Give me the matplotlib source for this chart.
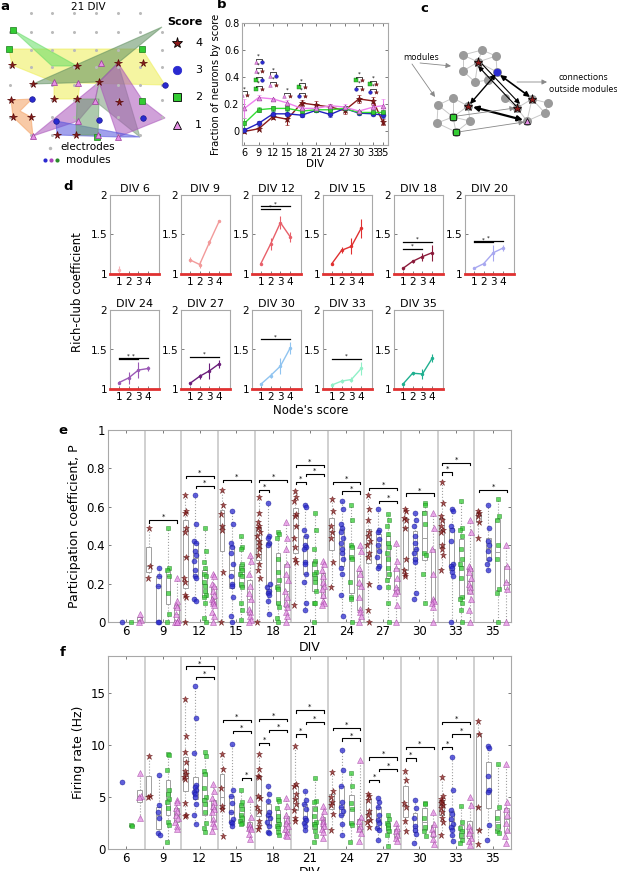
import numpy as np
import matplotlib.pyplot as plt

W, H = 617, 871

# ---------------- data ----------------
# panel a: 21 DIV example (positions read in pixels of the original panel)
a_stars = [(12, 65), (77, 66), (118, 63), (143, 63), (33, 84), (99, 82), (11, 100), (54, 99),
           (77, 99), (119, 102), (13, 117), (31, 117), (57, 135), (76, 135)]
a_circles = [(32, 99), (165, 85), (56, 121), (99, 120), (143, 118)]
a_squares = [(13, 30), (9, 49), (142, 49), (142, 101), (97, 137)]
a_triangles = [(101, 63), (54, 82), (78, 83), (95, 101), (78, 121), (33, 136), (98, 135), (118, 137)]
a_grid_x = [10, 31, 52, 74, 96, 118, 140, 162]
a_grid_y = [13, 32, 50, 67, 85, 100, 117, 135]
a_modules = [
    ('#eeee55', [(9, 49), (142, 49), (165, 85), (80, 83), (78, 99), (54, 99), (54, 82), (12, 65)]),
    ('#66dd66', [(13, 30), (77, 66), (52, 66)]),
    ('#5f8f5f', [(33, 84), (162, 27), (118, 63), (99, 82)]),
    ('#7a9a7a', [(118, 63), (99, 82), (95, 101), (140, 137)]),
    ('#aa55bb', [(33, 136), (99, 82), (95, 101), (78, 121)]),
    ('#aa55bb', [(118, 63), (143, 101), (165, 118), (118, 137), (99, 82)]),
    ('#f4a060', [(11, 100), (32, 99), (20, 111), (31, 117), (33, 136), (13, 117)]),
    ('#5555dd', [(56, 121), (140, 137), (118, 137), (57, 135)]),
    ('#6aa06a', [(77, 99), (99, 99), (98, 135), (76, 135)]),
]

# panel b: fraction of neurons by score
b_div = [6, 9, 12, 15, 18, 21, 24, 27, 30, 33, 35]
b_score4 = [0.00, 0.02, 0.11, 0.09, 0.21, 0.195, 0.18, 0.155, 0.24, 0.225, 0.07]
b_score4_err = [0.01, 0.01, 0.02, 0.04, 0.02, 0.03, 0.02, 0.03, 0.03, 0.03, 0.02]
b_score3 = [0.01, 0.06, 0.13, 0.13, 0.12, 0.155, 0.125, 0.17, 0.135, 0.13, 0.12]
b_score3_err = [0.01, 0.02, 0.02, 0.03, 0.01, 0.01, 0.02, 0.01, 0.01, 0.01, 0.02]
b_score2 = [0.06, 0.16, 0.17, 0.17, 0.15, 0.16, 0.16, 0.17, 0.14, 0.14, 0.14]
b_score2_err = [0.04, 0.02, 0.02, 0.02, 0.01, 0.01, 0.02, 0.02, 0.02, 0.01, 0.03]
b_score1 = [0.17, 0.25, 0.24, 0.21, 0.17, 0.17, 0.19, 0.18, 0.15, 0.18, 0.19]
b_score1_err = [0.07, 0.02, 0.01, 0.02, 0.01, 0.02, 0.01, 0.02, 0.01, 0.02, 0.05]
# (DIV, height, score a, score b)
b_sig = [(6, 0.27, 1, 4), (9, 0.51, 1, 3), (9, 0.445, 1, 4), (9, 0.38, 2, 3), (9, 0.31, 2, 4),
         (12, 0.41, 1, 3), (12, 0.34, 1, 4), (15, 0.26, 1, 4), (18, 0.33, 2, 4), (18, 0.26, 3, 4),
         (30, 0.38, 2, 4), (30, 0.31, 3, 4), (33, 0.35, 2, 4), (33, 0.29, 3, 4)]

# panel c: schematic network
c_top = [(463, 55), (482, 50), (496, 56), (463, 71), (478, 62), (497, 72), (475, 82), (488, 80)]
c_left = [(438, 105), (453, 98), (468, 106), (453, 117), (437, 123), (470, 121), (456, 132)]
c_right = [(532, 99), (517, 108), (545, 113), (527, 121), (548, 103), (505, 98)]

# panel d: rich-club coefficient by node's score
d_div = [6, 9, 12, 15, 18, 20, 24, 27, 30, 33, 35]
d_mean = [[1.05, np.nan, np.nan, np.nan],
          [1.18, 1.12, 1.40, 1.67],
          [1.13, 1.38, 1.65, 1.47],
          [1.13, 1.30, 1.35, 1.58],
          [1.07, 1.16, 1.22, 1.27],
          [1.07, 1.13, 1.27, 1.33],
          [1.08, 1.14, 1.24, 1.26],
          [1.07, 1.16, 1.23, 1.32],
          [1.06, 1.17, 1.29, 1.52],
          [1.05, 1.10, 1.12, 1.26],
          [1.06, 1.20, 1.19, 1.39]]
d_err = [[0.05, 0, 0, 0],
         [0.03, 0.05, 0.03, 0.01],
         [0.02, 0.07, 0.08, 0.06],
         [0.02, 0.04, 0.10, 0.12],
         [0.02, 0.02, 0.05, 0.10],
         [0.01, 0.02, 0.10, 0.04],
         [0.02, 0.08, 0.10, 0.03],
         [0.02, 0.03, 0.10, 0.05],
         [0.02, 0.03, 0.10, 0.08],
         [0.02, 0.03, 0.03, 0.08],
         [0.02, 0.02, 0.06, 0.05]]
d_sig = {12: [(1, 3, 1.82), (1, 4, 1.86)], 18: [(1, 3, 1.32), (1, 4, 1.41)],
         20: [(1, 3, 1.40), (1, 4, 1.42)], 24: [(1, 3, 1.38), (1, 4, 1.39)],
         27: [(1, 4, 1.41)], 30: [(1, 4, 1.63)], 33: [(1, 4, 1.38)]}

# panels e, f: per-DIV groups
ef_div = [6, 9, 12, 15, 18, 21, 24, 27, 30, 33, 35]

pc_score4 = [[],
             [0.49, 0.29, 0.23],
             [0.66, 0.58, 0.57, 0.49, 0.47, 0.34, 0.23, 0.21, 0.14, 0.13, 0.0],
             [0.69, 0.61, 0.56, 0.50, 0.48, 0.26, 0.0],
             [0.65, 0.57, 0.52, 0.50, 0.49, 0.47, 0.45, 0.42, 0.40, 0.38, 0.35, 0.30, 0.27, 0.23, 0.0],
             [0.68, 0.65, 0.63, 0.56, 0.55, 0.50, 0.44, 0.39, 0.33, 0.31, 0.09],
             [0.64, 0.58, 0.50, 0.47, 0.44, 0.31, 0.18],
             [0.66, 0.59, 0.53, 0.47, 0.45, 0.42, 0.40, 0.36, 0.34, 0.20, 0.06, 0.0],
             [0.59, 0.58, 0.54, 0.53, 0.49, 0.33, 0.27, 0.25, 0.24],
             [0.73, 0.62, 0.55, 0.53, 0.50, 0.48, 0.47, 0.40, 0.38, 0.35, 0.27],
             [0.58, 0.57, 0.55, 0.52, 0.44]]
pc_score3 = [[0.0],
             [0.28, 0.24, 0.19, 0.0, 0.0],
             [0.66, 0.51, 0.42, 0.41, 0.37, 0.35, 0.32, 0.27, 0.24, 0.23, 0.12, 0.11],
             [0.58, 0.51, 0.41, 0.39, 0.36, 0.30, 0.24, 0.20, 0.19, 0.13, 0.03, 0.0],
             [0.62, 0.45, 0.44, 0.41, 0.40, 0.20, 0.18, 0.16, 0.15, 0.14, 0.11, 0.04],
             [0.61, 0.60, 0.48, 0.45, 0.40, 0.39, 0.38, 0.31, 0.30, 0.25, 0.21, 0.10, 0.06],
             [0.63, 0.59, 0.51, 0.49, 0.47, 0.44, 0.41, 0.38, 0.36, 0.33, 0.28, 0.25, 0.14, 0.03],
             [0.59, 0.48, 0.47, 0.43, 0.40, 0.37, 0.34, 0.29, 0.28, 0.18],
             [0.57, 0.53, 0.50, 0.45, 0.41, 0.38, 0.36, 0.33, 0.31, 0.15, 0.12],
             [0.59, 0.58, 0.50, 0.48, 0.42, 0.30, 0.29, 0.28, 0.26, 0.24, 0.0],
             [0.61, 0.49, 0.42, 0.40, 0.37, 0.33, 0.30, 0.27]]
pc_score2 = [[0.0],
             [0.49, 0.28, 0.27, 0.24, 0.15, 0.04, 0.0],
             [0.49, 0.37, 0.31, 0.28, 0.25, 0.24, 0.21, 0.19, 0.16, 0.14, 0.13, 0.10, 0.02, 0.0],
             [0.45, 0.39, 0.38, 0.30, 0.28, 0.27, 0.25, 0.24, 0.20, 0.18, 0.10, 0.06, 0.01],
             [0.47, 0.46, 0.44, 0.33, 0.26, 0.22, 0.18, 0.17, 0.10, 0.08, 0.02, 0.0],
             [0.57, 0.48, 0.38, 0.32, 0.30, 0.26, 0.25, 0.23, 0.21, 0.16, 0.10, 0.10, 0.0],
             [0.61, 0.53, 0.40, 0.39, 0.34, 0.33, 0.21, 0.13, 0.12, 0.0],
             [0.56, 0.53, 0.50, 0.46, 0.41, 0.39, 0.36, 0.33, 0.28, 0.25, 0.22, 0.18, 0.10, 0.0],
             [0.62, 0.61, 0.57, 0.51, 0.36, 0.35, 0.25, 0.10],
             [0.63, 0.49, 0.48, 0.45, 0.38, 0.33, 0.30, 0.28, 0.23, 0.13, 0.12, 0.10, 0.06, 0.0],
             [0.64, 0.55, 0.53, 0.40, 0.33, 0.17, 0.15, 0.0]]
pc_score1 = [[0.04, 0.01, 0.0],
             [0.23, 0.11, 0.09, 0.08, 0.04, 0.01, 0.0, 0.0, 0.0],
             [0.25, 0.24, 0.20, 0.19, 0.16, 0.14, 0.12, 0.11, 0.10, 0.09, 0.05, 0.03, 0.0],
             [0.35, 0.32, 0.25, 0.19, 0.15, 0.12, 0.07, 0.05, 0.03, 0.01, 0.0],
             [0.52, 0.44, 0.38, 0.30, 0.25, 0.22, 0.16, 0.13, 0.10, 0.08, 0.05, 0.03, 0.0],
             [0.32, 0.30, 0.27, 0.24, 0.21, 0.19, 0.17, 0.14, 0.11, 0.10, 0.09],
             [0.40, 0.37, 0.28, 0.25, 0.21, 0.19, 0.13, 0.07, 0.05, 0.03, 0.0],
             [0.41, 0.32, 0.28, 0.23, 0.18, 0.16, 0.15, 0.09, 0.0],
             [0.57, 0.49, 0.38, 0.25, 0.12, 0.11, 0.10, 0.08, 0.0],
             [0.53, 0.47, 0.29, 0.28, 0.26, 0.23, 0.20, 0.18, 0.16, 0.12, 0.06, 0.0],
             [0.40, 0.29, 0.21, 0.17, 0.0]]
# (group index, score a, score b, height)  scores: 4 star, 3 circle, 2 square, 1 triangle
pc_sig = [(1, 4, 1, 0.53), (2, 4, 1, 0.76), (2, 3, 1, 0.71), (3, 4, 1, 0.74), (4, 4, 1, 0.74),
          (4, 4, 3, 0.69), (5, 4, 1, 0.82), (5, 3, 1, 0.77), (5, 4, 3, 0.73), (6, 4, 1, 0.73),
          (6, 3, 1, 0.68), (7, 4, 1, 0.70), (7, 3, 1, 0.63), (8, 4, 1, 0.67), (9, 4, 1, 0.83),
          (9, 4, 3, 0.78), (10, 4, 1, 0.69)]

fr_score4 = [[],
             [8.9, 5.1, 5.0],
             [14.4, 10.8, 9.3, 8.3, 7.5, 7.2, 6.9, 6.7, 4.4, 3.3, 3.2],
             [9.1, 7.7, 5.8, 4.1, 3.8, 1.2],
             [9.1, 7.7, 7.0, 6.9, 5.1, 4.9, 4.0, 3.6, 2.7, 2.2, 1.9],
             [9.9, 6.2, 6.0, 5.3, 4.8, 4.3, 3.7, 3.0, 2.7],
             [7.4, 5.6, 5.0, 4.5, 4.2, 3.4, 1.8],
             [5.3, 5.1, 4.7, 3.6, 3.3, 2.8, 2.6, 2.1],
             [7.5, 6.6, 4.4, 4.0, 2.7, 1.7],
             [6.9, 5.1, 4.8, 4.6, 4.4, 4.2, 3.9, 3.5, 3.0, 2.6, 1.3],
             [12.3, 11.0, 4.0, 1.8, 0.5]]
fr_score3 = [[6.4],
             [7.1, 4.2, 3.5, 3.0, 1.5, 1.3],
             [15.6, 12.6, 9.2, 6.1, 5.9, 5.7, 5.5, 5.3, 5.0, 4.3, 3.3, 2.4],
             [10.1, 5.7, 5.1, 4.4, 3.5, 2.9, 2.6, 2.5, 2.2],
             [6.0, 5.3, 4.6, 3.5, 3.3, 3.0, 2.6, 2.2, 1.6, 1.5],
             [5.6, 4.7, 4.3, 3.8, 3.0, 2.8, 2.5, 2.2, 1.8],
             [9.5, 7.6, 6.0, 4.5, 4.0, 3.6, 3.3, 2.4, 1.3],
             [4.9, 4.5, 4.0, 3.3, 2.8, 2.5, 2.0, 1.8, 0.9],
             [4.7, 3.9, 3.0, 2.2, 1.8, 1.4, 0.6],
             [8.8, 5.7, 3.7, 3.4, 2.9, 2.4, 2.1, 1.8, 1.3, 0.8],
             [9.9, 9.7, 7.0, 5.7, 5.5, 2.3, 0.9]]
fr_score2 = [[2.3, 2.2],
             [9.1, 9.0, 7.6, 5.7, 5.3, 4.8, 4.5, 3.9, 2.6, 2.3, 0.7],
             [9.3, 8.9, 7.5, 7.2, 5.8, 5.0, 4.7, 4.3, 3.5, 2.5, 2.0, 1.6],
             [5.7, 4.5, 4.2, 3.8, 3.3, 3.0, 2.7, 2.5, 2.4],
             [4.8, 4.6, 3.9, 3.2, 2.8, 2.4, 2.2, 2.0, 1.6, 1.3],
             [6.8, 4.6, 4.5, 3.8, 3.2, 2.6, 2.4, 2.2, 1.7, 1.2, 0.7],
             [7.3, 6.0, 4.4, 3.8, 2.5, 2.3, 0.7],
             [3.3, 2.9, 2.5, 2.3, 2.0, 1.7, 1.3, 0.3],
             [4.4, 4.3, 3.0, 2.1, 1.7, 1.2],
             [4.1, 2.6, 2.0, 1.7, 1.3, 0.9, 0.6],
             [8.1, 4.0, 3.0, 2.2, 1.7, 1.5]]
fr_score1 = [[7.3, 5.1, 5.0, 3.0],
             [4.7, 4.5, 3.9, 3.6, 3.3, 3.0, 2.6, 2.2, 1.9],
             [6.2, 5.6, 4.9, 4.5, 4.1, 3.8, 3.5, 2.9, 2.5, 2.2, 1.7],
             [4.8, 3.1, 2.4, 2.2, 2.0, 1.9, 1.4, 1.0],
             [4.9, 4.1, 3.3, 2.8, 2.5, 2.2, 1.9, 1.6, 1.3, 1.2],
             [4.1, 3.6, 3.1, 2.7, 2.5, 2.2, 1.9, 1.6, 1.1],
             [8.5, 3.1, 2.7, 2.2, 1.9, 1.5, 0.8],
             [2.5, 2.0, 1.7, 1.3, 1.1, 0.8],
             [3.5, 2.4, 1.9, 1.5, 1.0, 0.5],
             [5.0, 4.2, 2.2, 1.8, 1.5, 1.1, 0.8, 0.4],
             [8.1, 4.5, 3.8, 3.3, 2.5, 1.8, 1.2, 0.6]]
fr_sig = [(2, 4, 1, 17.5), (2, 3, 1, 16.5), (3, 4, 1, 12.4), (3, 3, 1, 11.3), (3, 2, 1, 6.8),
          (4, 4, 1, 12.5), (4, 3, 1, 11.4), (4, 4, 3, 10.2), (5, 4, 1, 13.3), (5, 3, 1, 12.2),
          (5, 4, 3, 11.0), (6, 4, 1, 11.6), (6, 3, 1, 10.6), (7, 4, 1, 8.8), (7, 3, 1, 7.7),
          (7, 4, 3, 6.6), (8, 4, 1, 9.8), (8, 4, 3, 8.7), (9, 4, 1, 12.2), (9, 3, 1, 11.0),
          (9, 4, 3, 9.8)]

# ---------------- styles ----------------
marker_of = {4: '*', 3: 'o', 2: 's', 1: '^'}
face_of = {4: '#8b1a1a', 3: '#2a2ad0', 2: '#33cc33', 1: '#e58fe5'}
edge_of = {4: '#5a0a0a', 3: '#1a1a90', 2: '#1a7a1a', 1: '#9a3a9a'}
line_of = {4: '#8b1a1a', 3: '#2020c0', 2: '#33dd33', 1: '#ee80ee'}
d_colors = ['#f7b4b8', '#f29a9a', '#e8606a', '#e03030', '#8b1a3a', '#a8a8f0',
            '#9b59b6', '#6b1e7b', '#90c4f0', '#90f0c8', '#20b090']
grid_gray = '#a8a8a8'

fig = plt.figure(figsize=(W / 100, H / 100), dpi=100)


def px_axes(l, t, r, b):
    return fig.add_axes([l / W, 1 - b / H, (r - l) / W, (b - t) / H])


def matlab_style(ax, fs):
    for sp in ax.spines.values():
        sp.set_color(grid_gray)
        sp.set_linewidth(0.8)
    ax.tick_params(direction='in', length=2.5, width=0.6, color='#666666',
                   labelsize=fs, top=True, right=True, pad=2)


def bracket(ax, x1, x2, y, dy, fs=5, lw=0.8):
    ax.plot([x1, x1, x2, x2], [y - dy, y, y, y - dy], color='k', lw=lw, clip_on=False)
    ax.text((x1 + x2) / 2, y, '*', ha='center', va='bottom', fontsize=fs)


# ---------------- panel a ----------------
ax = px_axes(0, 0, 215, 170)
ax.set_xlim(0, 215)
ax.set_ylim(170, 0)
ax.axis('off')
for i, gx in enumerate(a_grid_x):
    for j, gy in enumerate(a_grid_y):
        if (i in (0, 7)) and (j in (0, 7)):
            continue
        ax.plot(gx, gy, 'o', ms=2.2, color='#bbbbbb', mec='none')
for col, verts in a_modules:
    ax.add_patch(plt.Polygon(verts, closed=True, facecolor=col, edgecolor=col, alpha=0.55, lw=0.8))
for s, pts in [(2, a_squares), (4, a_stars), (3, a_circles), (1, a_triangles)]:
    xs, ys = zip(*pts)
    ax.plot(xs, ys, ls='none', marker=marker_of[s], ms=5.5 if s == 4 else 4,
            mfc=face_of[s], mec=edge_of[s], mew=0.5)
ax.text(88, 7, '21 DIV', ha='center', va='center', fontsize=7.5)
ax.text(185, 22, 'Score', ha='center', va='center', fontsize=8, fontweight='bold')
for s, yy in [(4, 43), (3, 70), (2, 97), (1, 125)]:
    ax.plot(177, yy, marker=marker_of[s], ms=8 if s == 4 else 6, mfc=face_of[s],
            mec='k' if s != 3 else face_of[s], mew=0.6)
    ax.text(195, yy, str(s), ha='left', va='center', fontsize=8)
ax.plot(50, 148, 'o', ms=2.5, color='#bbbbbb', mec='none')
ax.text(88, 147, 'electrodes', ha='center', va='center', fontsize=7.5)
for xx, cc in [(45, '#2a2ad0'), (51, '#aa44bb'), (57, '#2a8a2a')]:
    ax.plot(xx, 160, 'o', ms=3, color=cc, mec='none')
ax.text(88, 160, 'modules', ha='center', va='center', fontsize=7.5)

# ---------------- panel b ----------------
ax = px_axes(242, 23, 388, 145)
matlab_style(ax, 7)
for s, vals, errs in [(4, b_score4, b_score4_err), (3, b_score3, b_score3_err),
                      (2, b_score2, b_score2_err), (1, b_score1, b_score1_err)]:
    ax.errorbar(b_div, vals, yerr=errs, color=line_of[s], lw=1, capsize=1.5, elinewidth=0.8,
                marker=marker_of[s], ms=4.5 if s == 4 else 3.5, mfc=face_of[s], mec=edge_of[s], mew=0.4)
for dv, yy, sa, sb in b_sig:
    for xx, s in [(dv - 0.6, sa), (dv + 0.6, sb)]:
        ax.plot(xx, yy, marker=marker_of[s], ms=3 if s == 4 else 2.6, mfc=face_of[s],
                mec=edge_of[s], mew=0.3)
    bracket(ax, dv - 0.6, dv + 0.6, yy + 0.025, 0.01, fs=4, lw=0.5)
ax.set_xlim(5.5, 36.1)
ax.set_ylim(-0.1, 0.8)
ax.set_xticks(b_div)
ax.set_xticklabels([str(d) for d in b_div])
ax.set_yticks([0, 0.2, 0.4, 0.6, 0.8])
ax.set_yticklabels(['0', '0.2', '0.4', '0.6', '0.8'])
ax.set_xlabel('DIV', fontsize=7.5, labelpad=1)
ax.set_ylabel('Fraction of neurons by score', fontsize=7.2, labelpad=2)

# ---------------- panel c ----------------
ax = px_axes(400, 0, 617, 170)
ax.set_xlim(400, 617)
ax.set_ylim(170, 0)
ax.axis('off')
for cl in (c_top, c_left, c_right):
    for i in range(len(cl)):
        for j in range(i + 1, len(cl)):
            (x1, y1), (x2, y2) = cl[i], cl[j]
            if np.hypot(x2 - x1, y2 - y1) < 24:
                ax.plot([x1, x2], [y1, y2], color='#c8c8c8', lw=0.7, zorder=1)
    xs, ys = zip(*cl)
    ax.plot(xs, ys, 'o', ms=6.5, color='#9a9a9a', mec='none', zorder=2)
for (xx, yy), s in [(c_top[4], 4), (c_top[5], 3), (c_left[2], 4), (c_left[3], 2), (c_left[6], 2),
                    (c_right[0], 4), (c_right[1], 4), (c_right[3], 1)]:
    ax.plot(xx, yy, marker=marker_of[s], ms=6.5 if s == 4 else 5, mfc=face_of[s],
            mec='k' if s != 3 else face_of[s], mew=0.5, zorder=4)
arrow_specs = [((478, 66), (516, 106), '<|-', 0.8, 'k'), ((482, 64), (520, 104), '-|>', 0.8, 'k'),
               ((496, 74), (470, 104), '<|-|>', 1.0, 'k'), ((500, 75), (530, 97), '<|-|>', 1.2, 'k'),
               ((473, 107), (523, 120), '<|-|>', 1.6, 'k'), ((457, 116), (515, 108), '-|>', 0.6, '#888888'),
               ((458, 132), (524, 122), '-|>', 0.6, '#888888'), ((420, 63), (451, 66), '-|>', 0.6, '#888888'),
               ((412, 64), (435, 97), '-|>', 0.6, '#888888'), ((517, 82), (547, 82), '-|>', 0.6, '#888888')]
for p1, p2, st, lw, col in arrow_specs:
    ax.annotate('', xy=p2, xytext=p1, zorder=3,
                arrowprops=dict(arrowstyle=st + ',head_length=0.3,head_width=0.15', color=col, lw=lw,
                                shrinkA=0, shrinkB=0))
ax.text(421, 57, 'modules', ha='center', va='center', fontsize=6.3, family='Open Sans')
ax.text(583, 77, 'connections', ha='center', va='center', fontsize=6.3, family='Open Sans')
ax.text(583, 89, 'outside modules', ha='center', va='center', fontsize=6.3, family='Open Sans')

# ---------------- panel d ----------------
d_lefts = [110, 181, 252, 323, 394, 465]
for k, dv in enumerate(d_div):
    row, col = divmod(k, 6)
    top = 195 if row == 0 else 310
    ax = px_axes(d_lefts[col], top, d_lefts[col] + 49, top + 79)
    matlab_style(ax, 7.5)
    ax.tick_params(top=False, right=False)
    ax.axhline(1, color='#e03030', lw=2, zorder=5, clip_on=False)
    ax.errorbar([1, 2, 3, 4], d_mean[k], yerr=d_err[k], color=d_colors[k], lw=1,
                capsize=1.5, elinewidth=0.8, marker='o', ms=2.5, mew=0)
    for a, b, h in d_sig.get(dv, []):
        bracket(ax, a, b, h, 0.0, fs=4, lw=0.9)
    ax.set_xlim(0.1, 5.1)
    ax.set_ylim(1, 2)
    ax.set_xticks([1, 2, 3, 4])
    ax.set_yticks([1, 1.5, 2])
    ax.set_yticklabels(['1', '1.5', '2'])
    ax.set_title('DIV %d' % dv, fontsize=8, pad=2)

fig.text(78 / W, 1 - 292 / H, 'Rich-club coefficient', rotation=90, ha='center', va='center', fontsize=8.5)
fig.text(311 / W, 1 - 410 / H, "Node's score", ha='center', va='center', fontsize=8.5)


# ---------------- panels e, f ----------------
col_off = {4: -0.39, 3: -0.12, 2: 0.14, 1: 0.37}
jit = [0.0, 0.025, -0.02, 0.012, -0.01, 0.03, -0.03, 0.005]
pt_size = {4: 4.5, 3: 3.6, 2: 3.0, 1: 3.8}


def group_panel(ax, series, sig, ymax, yticks, ylabel):
    matlab_style(ax, 8.5)
    for s, data in series:
        for g, vals in enumerate(data):
            if not vals:
                continue
            x0 = g + col_off[s]
            if len(vals) > 1:
                ax.boxplot([vals], positions=[x0], widths=0.13, whis=(0, 100), patch_artist=True,
                           showcaps=False, manage_ticks=False,
                           boxprops=dict(facecolor='white', edgecolor='#a0a0a0', lw=0.7),
                           medianprops=dict(color='#a0a0a0', lw=0.7),
                           whiskerprops=dict(color='#a0a0a0', ls=':', lw=0.8),
                           flierprops=dict(marker=''), zorder=2)
            xs = x0 + np.array([jit[i % len(jit)] for i in range(len(vals))])
            ax.plot(xs, vals, ls='none', marker=marker_of[s], ms=pt_size[s], mfc=face_of[s],
                    mec=edge_of[s], mew=0.4, alpha=0.75, zorder=3, clip_on=False)
    for g, sa, sb, h in sig:
        bracket(ax, g + col_off[sa] + 0.02, g + col_off[sb] + 0.02, h, ymax * 0.012, fs=5, lw=0.8)
    for g in range(10):
        ax.axvline(g + 0.5, color='#c8c8c8', lw=1.2, zorder=1)
    ax.set_xlim(-0.5, 10.5)
    ax.set_ylim(0, ymax)
    ax.set_xticks(range(11))
    ax.set_xticklabels([str(d) for d in ef_div])
    ax.set_yticks(yticks)
    ax.set_ylabel(ylabel, fontsize=9, labelpad=4)


ax = px_axes(108, 430, 511, 622)
group_panel(ax, [(4, pc_score4), (3, pc_score3), (2, pc_score2), (1, pc_score1)], pc_sig, 1.0,
            [0, 0.2, 0.4, 0.6, 0.8, 1], 'Participation coefficient, P')
ax.set_yticklabels(['0', '0.2', '0.4', '0.6', '0.8', '1'])
ax.set_xlabel('DIV', fontsize=9, labelpad=2)

ax = px_axes(108, 656, 511, 849)
group_panel(ax, [(4, fr_score4), (3, fr_score3), (2, fr_score2), (1, fr_score1)], fr_sig, 18.5,
            [0, 5, 10, 15], 'Firing rate (Hz)')
ax.set_xlabel('DIV', fontsize=9, labelpad=1)

# panel letters
for lab, x, y in [('a', 5, 6), ('b', 222, 5), ('c', 424, 8), ('d', 68, 187), ('e', 63, 430), ('f', 63, 652)]:
    fig.text(x / W, 1 - y / H, lab, fontsize=9.5, fontweight='bold', ha='center', va='center')

fig.savefig('out.png', dpi=100)
